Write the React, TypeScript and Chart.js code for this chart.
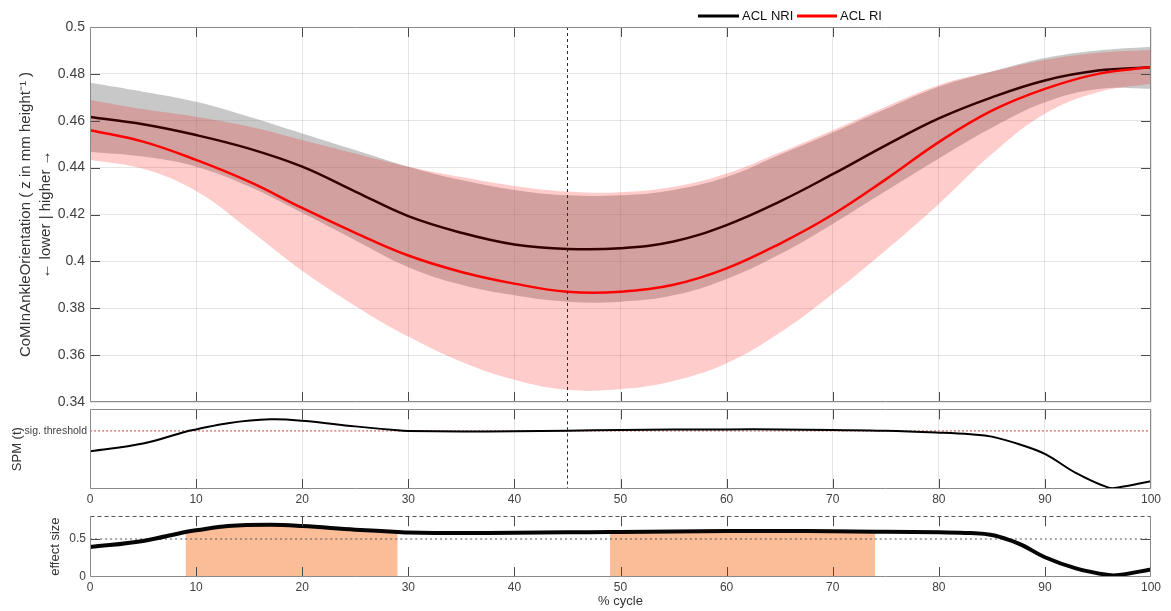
import React, { useEffect, useRef } from "react";
import { Chart, registerables } from "chart.js";

Chart.register(...registerables);

// ---------- data ----------
const X_PCT = [0, 5, 10, 15, 20, 25, 30, 35, 40, 45, 50, 55, 60, 65, 70, 75, 80, 85, 90, 95, 100];

const NRI_MEAN = [0.4616, 0.4585, 0.4539, 0.4481, 0.4404, 0.4298, 0.4193, 0.4122, 0.4072, 0.4053, 0.4056, 0.4085, 0.4155, 0.4255, 0.4372, 0.4495, 0.461, 0.47, 0.4772, 0.4814, 0.4828];
const NRI_UPPER = [0.4762, 0.4724, 0.4681, 0.4617, 0.4546, 0.4475, 0.4404, 0.4347, 0.4305, 0.4282, 0.4282, 0.4305, 0.436, 0.4455, 0.455, 0.465, 0.4745, 0.481, 0.4868, 0.49, 0.4916];
const NRI_LOWER = [0.4468, 0.4447, 0.4404, 0.4319, 0.4207, 0.409, 0.3975, 0.39, 0.3855, 0.3828, 0.3828, 0.3855, 0.3925, 0.403, 0.416, 0.43, 0.4439, 0.457, 0.4679, 0.4736, 0.4737];

const RI_MEAN = [0.456, 0.4511, 0.4433, 0.434, 0.4228, 0.4122, 0.4025, 0.3955, 0.3905, 0.387, 0.387, 0.39, 0.397, 0.4075, 0.42, 0.435, 0.4509, 0.4643, 0.4736, 0.48, 0.4829];
const RI_UPPER = [0.4689, 0.465, 0.4617, 0.4575, 0.4518, 0.446, 0.4404, 0.436, 0.4322, 0.4298, 0.4295, 0.4318, 0.4375, 0.4465, 0.456, 0.466, 0.4753, 0.481, 0.4859, 0.489, 0.4902];
const RI_LOWER = [0.4434, 0.4395, 0.43, 0.4135, 0.396, 0.381, 0.3679, 0.3572, 0.3495, 0.3452, 0.3455, 0.349, 0.3565, 0.3695, 0.3862, 0.4047, 0.4245, 0.4458, 0.463, 0.4722, 0.4758];

const SPM_X = [0, 5, 9, 10, 13, 17, 20, 25, 29, 30, 35, 40, 45, 50, 55, 60, 65, 70, 75, 80, 83, 85, 88, 90, 93, 96, 97, 100];
const SPM_T = [1.99, 2.4, 3.02, 3.14, 3.47, 3.67, 3.6, 3.3, 3.09, 3.06, 3.03, 3.04, 3.07, 3.11, 3.13, 3.14, 3.14, 3.11, 3.07, 2.97, 2.88, 2.76, 2.28, 1.85, 0.82, 0.07, 0.09, 0.41];
const SPM_THRESHOLD = 3.06;

const ES_X = [0, 5, 9, 10, 13, 17, 20, 25, 29, 30, 35, 40, 45, 49, 50, 55, 60, 65, 70, 74, 75, 80, 83, 85, 87, 88, 90, 93, 96, 97, 100];
const ES_VAL = [0.394, 0.475, 0.593, 0.615, 0.67, 0.686, 0.67, 0.623, 0.593, 0.585, 0.578, 0.582, 0.588, 0.592, 0.593, 0.6, 0.605, 0.606, 0.602, 0.597, 0.596, 0.588, 0.578, 0.553, 0.47, 0.41, 0.26, 0.11, 0.025, 0.025, 0.1];
const SIG_CLUSTERS = [
  [9, 29],
  [49, 74],
];
const ES_REF = 0.5;
const EVENT_PCT = 45;

const X_TICKS = [0, 10, 20, 30, 40, 50, 60, 70, 80, 90, 100];
const TOP_Y_TICKS = [0.34, 0.36, 0.38, 0.4, 0.42, 0.44, 0.46, 0.48, 0.5];
const ES_Y_TICKS = [0, 0.5];
const LEGEND_LABELS = ["ACL NRI", "ACL RI"];

// ---------- styles ----------
const FONT = '"Liberation Sans", Arial, Helvetica, sans-serif';
const TICK_C = "#404040";
const TITLE_C = "#333333";
const GRID_C = "rgba(0,0,0,0.1)";
const NRI_C = "#000000";
const RI_C = "#ff0000";

const pts = (xs: number[], ys: number[]) => xs.map((x, i) => ({ x, y: ys[i] }));
const inner = X_TICKS.filter((v) => v > 0 && v < 100);

const framePlugin = {
  id: "frame",
  afterDatasetsDraw(chart: any, _a: any, opts: any) {
    const { ctx, chartArea: a } = chart;
    const xs = chart.scales.x;
    const ys = chart.scales.y;
    const L = Math.round(a.left) + 0.5;
    const R = Math.round(a.right) - 0.5;
    const T = Math.round(a.top) + 0.5;
    const B = Math.round(a.bottom) - 0.5;
    ctx.save();
    if (opts.vline != null) {
      const px = Math.round(xs.getPixelForValue(opts.vline)) + 0.5;
      ctx.strokeStyle = "#2b2b2b";
      ctx.lineWidth = 1;
      ctx.setLineDash([3, 3]);
      ctx.beginPath();
      ctx.moveTo(px, a.top);
      ctx.lineTo(px, a.bottom);
      ctx.stroke();
    }
    ctx.setLineDash([]);
    ctx.strokeStyle = "#4a4a4a";
    ctx.lineWidth = 1;
    const TL = 10;
    ctx.beginPath();
    (opts.xTicks || []).forEach((v: number) => {
      const px = Math.round(xs.getPixelForValue(v)) + 0.5;
      ctx.moveTo(px, a.top);
      ctx.lineTo(px, a.top + TL);
      ctx.moveTo(px, a.bottom);
      ctx.lineTo(px, a.bottom - TL);
    });
    (opts.yTicks || []).forEach((v: number) => {
      const py = Math.round(ys.getPixelForValue(v)) + 0.5;
      ctx.moveTo(a.left, py);
      ctx.lineTo(a.left + TL, py);
      ctx.moveTo(a.right, py);
      ctx.lineTo(a.right - TL, py);
    });
    ctx.stroke();
    ctx.strokeStyle = "#8a8a8a";
    ctx.beginPath();
    ctx.moveTo(L, T);
    ctx.lineTo(L, B);
    ctx.lineTo(R, B);
    ctx.lineTo(R, T);
    if (!opts.dashedTop) ctx.lineTo(L, T);
    ctx.stroke();
    if (opts.dashedTop) {
      ctx.setLineDash([4, 3]);
      ctx.strokeStyle = "#555555";
      ctx.beginPath();
      ctx.moveTo(L, T);
      ctx.lineTo(R, T);
      ctx.stroke();
    }
    ctx.restore();
  },
};

const legendPlugin = {
  id: "lineLegend",
  afterDraw(chart: any) {
    const { ctx } = chart;
    const y = 16;
    const items = [
      { x0: 698, x1: 739, tx: 742, color: NRI_C, label: LEGEND_LABELS[0] },
      { x0: 797, x1: 837, tx: 840, color: RI_C, label: LEGEND_LABELS[1] },
    ];
    ctx.save();
    ctx.font = `13px ${FONT}`;
    ctx.textBaseline = "middle";
    ctx.textAlign = "left";
    items.forEach((it) => {
      ctx.strokeStyle = it.color;
      ctx.lineWidth = 3;
      ctx.beginPath();
      ctx.moveTo(it.x0, y);
      ctx.lineTo(it.x1, y);
      ctx.stroke();
      ctx.fillStyle = "#111111";
      ctx.fillText(it.label, it.tx, y);
    });
    ctx.restore();
  },
};

const baseOptions = (padding: any) => ({
  animation: false as const,
  responsive: false,
  devicePixelRatio: 1,
  events: [] as any[],
  layout: { padding },
  elements: {
    line: { cubicInterpolationMode: "default" as const, tension: 0.4 },
    point: { radius: 0 },
  },
});

export default function App() {
  const topRef = useRef<HTMLCanvasElement>(null);
  const midRef = useRef<HTMLCanvasElement>(null);
  const botRef = useRef<HTMLCanvasElement>(null);

  useEffect(() => {
    const band = (d: number[], color: string, fill: any, order: number) => ({
      data: pts(X_PCT, d),
      borderColor: "rgba(0,0,0,0)",
      borderWidth: 0,
      backgroundColor: color,
      fill,
      order,
      pointRadius: 0,
    });

    const top = new Chart(topRef.current as HTMLCanvasElement, {
      type: "line",
      data: {
        datasets: [
          band(NRI_UPPER, "rgba(128,128,128,0.43)", "+1", 5),
          band(NRI_LOWER, "rgba(0,0,0,0)", false, 5),
          { label: LEGEND_LABELS[0], data: pts(X_PCT, NRI_MEAN), borderColor: NRI_C, borderWidth: 2.5, fill: false, order: 4, pointRadius: 0 },
          band(RI_UPPER, "rgba(255,0,0,0.2)", "+1", 3),
          band(RI_LOWER, "rgba(0,0,0,0)", false, 3),
          { label: LEGEND_LABELS[1], data: pts(X_PCT, RI_MEAN), borderColor: RI_C, borderWidth: 2.5, fill: false, order: 2, pointRadius: 0 },
        ] as any,
      },
      options: {
        ...baseOptions({ top: 27, right: 20, bottom: 18, left: 0 }),
        plugins: {
          legend: { display: false },
          tooltip: { enabled: false },
          frame: { xTicks: inner, yTicks: TOP_Y_TICKS.slice(1, -1), vline: EVENT_PCT },
        } as any,
        scales: {
          x: {
            type: "linear",
            min: X_TICKS[0],
            max: X_TICKS[X_TICKS.length - 1],
            ticks: { stepSize: 10, display: false },
            grid: { color: GRID_C, drawTicks: false },
            border: { display: false },
            afterFit: (s: any) => {
              s.height = 0;
            },
          },
          y: {
            type: "linear",
            min: TOP_Y_TICKS[0],
            max: TOP_Y_TICKS[TOP_Y_TICKS.length - 1],
            afterBuildTicks: (s: any) => {
              s.ticks = TOP_Y_TICKS.map((v) => ({ value: v }));
            },
            ticks: {
              font: { family: FONT, size: 14 },
              color: TICK_C,
              padding: 5,
              callback: (v: any) => String(parseFloat(Number(v).toFixed(2))),
            },
            grid: { color: GRID_C, drawTicks: false },
            border: { display: false },
            title: {
              display: true,
              text: ["CoMInAnkleOrientation ( z in mm height\u207B\u00B9 )", "\u2190 lower | higher \u2192"],
              font: { family: FONT, size: 15, lineHeight: 1.33 },
              color: TITLE_C,
              padding: { top: 16, bottom: 0 },
            },
            afterFit: (s: any) => {
              s.width = 90;
            },
          },
        } as any,
      },
      plugins: [framePlugin, legendPlugin],
    });

    const mid = new Chart(midRef.current as HTMLCanvasElement, {
      type: "line",
      data: {
        datasets: [
          { data: pts(SPM_X, SPM_T), borderColor: "#000000", borderWidth: 2, fill: false, order: 1, pointRadius: 0 },
          {
            data: [
              { x: X_TICKS[0], y: SPM_THRESHOLD },
              { x: X_TICKS[X_TICKS.length - 1], y: SPM_THRESHOLD },
            ],
            borderColor: "rgba(200,40,40,0.9)",
            borderWidth: 1,
            borderDash: [2, 2],
            fill: false,
            order: 2,
            pointRadius: 0,
          },
        ] as any,
      },
      options: {
        ...baseOptions({ top: 8, right: 20, bottom: 0, left: 0 }),
        plugins: {
          legend: { display: false },
          tooltip: { enabled: false },
          frame: { xTicks: inner, vline: EVENT_PCT },
        } as any,
        scales: {
          x: {
            type: "linear",
            min: 0,
            max: 100,
            ticks: { stepSize: 10, font: { family: FONT, size: 12 }, color: TICK_C, padding: 3 },
            grid: { color: GRID_C, drawTicks: false },
            border: { display: false },
            afterFit: (s: any) => {
              s.height = 21;
            },
          },
          y: {
            type: "linear",
            min: 0,
            max: 4.2,
            afterBuildTicks: (s: any) => {
              s.ticks = [{ value: SPM_THRESHOLD }];
            },
            ticks: {
              font: { family: FONT, size: 10.5 },
              color: TICK_C,
              padding: 3,
              callback: () => "sig. threshold",
            },
            grid: { display: false, drawTicks: false },
            border: { display: false },
            title: {
              display: true,
              text: "SPM (t)",
              font: { family: FONT, size: 13 },
              color: TITLE_C,
              padding: { top: 10, bottom: 0 },
            },
            afterFit: (s: any) => {
              s.width = 90;
            },
          },
        } as any,
      },
      plugins: [framePlugin],
    });

    const esPts = pts(ES_X, ES_VAL);
    const clusterSets = SIG_CLUSTERS.map(([a, b]) => ({
      data: esPts.filter((p) => p.x >= a && p.x <= b),
      borderColor: "rgba(0,0,0,0)",
      borderWidth: 0,
      backgroundColor: "rgb(250,189,151)",
      fill: "origin",
      order: 3,
      pointRadius: 0,
    }));

    const bot = new Chart(botRef.current as HTMLCanvasElement, {
      type: "line",
      data: {
        datasets: [
          { data: esPts, borderColor: "#050505", borderWidth: 4, fill: false, order: 1, pointRadius: 0 },
          {
            data: [
              { x: X_TICKS[0], y: ES_REF },
              { x: X_TICKS[X_TICKS.length - 1], y: ES_REF },
            ],
            borderColor: "#555555",
            borderWidth: 1,
            borderDash: [2, 3],
            fill: false,
            order: 2,
            pointRadius: 0,
          },
          ...clusterSets,
        ] as any,
      },
      options: {
        ...baseOptions({ top: 9, right: 20, bottom: 0, left: 0 }),
        plugins: {
          legend: { display: false },
          tooltip: { enabled: false },
          frame: { xTicks: inner, yTicks: [ES_REF], dashedTop: true },
        } as any,
        scales: {
          x: {
            type: "linear",
            min: 0,
            max: 100,
            ticks: { stepSize: 10, font: { family: FONT, size: 12 }, color: TICK_C, padding: 3 },
            grid: { display: false, drawTicks: false },
            border: { display: false },
            title: {
              display: true,
              text: "% cycle",
              font: { family: FONT, size: 13 },
              color: TITLE_C,
              padding: { top: 0, bottom: 2 },
            },
            afterFit: (s: any) => {
              s.height = 34;
            },
          },
          y: {
            type: "linear",
            min: 0,
            max: 0.8,
            afterBuildTicks: (s: any) => {
              s.ticks = ES_Y_TICKS.map((v) => ({ value: v }));
            },
            ticks: {
              font: { family: FONT, size: 12 },
              color: TICK_C,
              padding: 4,
              callback: (v: any) => String(v),
            },
            grid: { display: false, drawTicks: false },
            border: { display: false },
            title: {
              display: true,
              text: "effect size",
              font: { family: FONT, size: 13 },
              color: TITLE_C,
              padding: { top: 48, bottom: 0 },
            },
            afterFit: (s: any) => {
              s.width = 90;
            },
          },
        } as any,
      },
      plugins: [framePlugin],
    });

    return () => {
      top.destroy();
      mid.destroy();
      bot.destroy();
    };
  }, []);

  const wrap: React.CSSProperties = {
    position: "absolute",
    left: 0,
    top: 0,
    width: 1171,
    height: 611,
    background: "#ffffff",
    overflow: "hidden",
  };
  const cv = (top: number, h: number): React.CSSProperties => ({
    position: "absolute",
    left: 0,
    top,
    width: 1171,
    height: h,
    display: "block",
  });

  return (
    <div style={wrap}>
      <canvas ref={topRef} width={1171} height={420} style={cv(0, 420)} />
      <canvas ref={midRef} width={1171} height={110} style={cv(400, 110)} />
      <canvas ref={botRef} width={1171} height={106} style={cv(505, 106)} />
    </div>
  );
}
